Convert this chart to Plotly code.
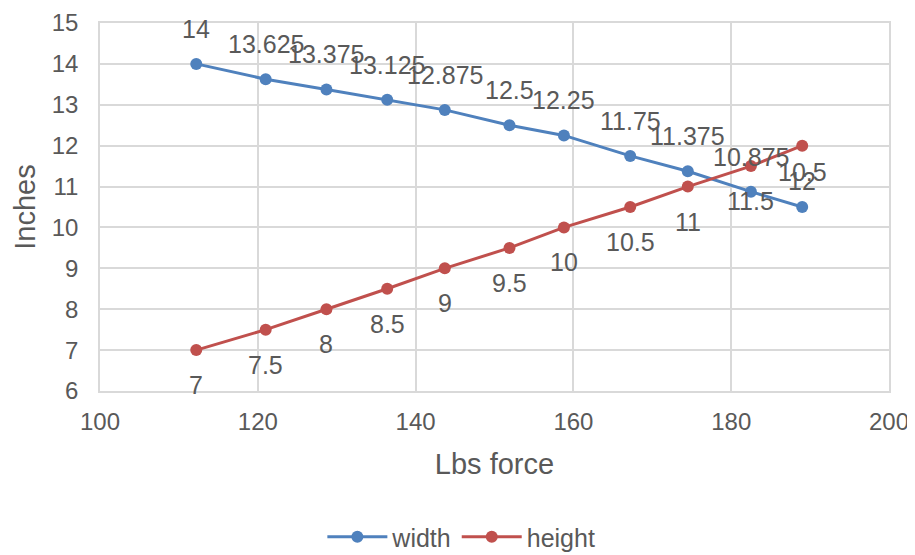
import plotly.graph_objects as go

force = [112.2, 121.0, 128.7, 136.4, 143.7, 151.9, 158.8, 167.2, 174.5, 182.5, 189.0]
width = [14, 13.625, 13.375, 13.125, 12.875, 12.5, 12.25, 11.75, 11.375, 10.875, 10.5]
height = [7, 7.5, 8, 8.5, 9, 9.5, 10, 10.5, 11, 11.5, 12]

BLUE = "#4F81BD"
RED = "#C0504D"
TXT = "#595959"
GRID = "#D9D9D9"
FONT = "Liberation Sans, Arial, sans-serif"

fig = go.Figure()
fig.add_trace(go.Scatter(x=force, y=width, mode="lines+markers", name="width",
                         line=dict(color=BLUE, width=3), marker=dict(size=12, color=BLUE)))
fig.add_trace(go.Scatter(x=force, y=height, mode="lines+markers", name="height",
                         line=dict(color=RED, width=3), marker=dict(size=12, color=RED)))

annotations = []
for xv, yv in zip(force, width):
    annotations.append(dict(x=xv, y=yv, text=f"{yv:g}", showarrow=False, yshift=35,
                            font=dict(size=25, color=TXT, family=FONT)))
for xv, yv in zip(force, height):
    annotations.append(dict(x=xv, y=yv, text=f"{yv:g}", showarrow=False, yshift=-35,
                            font=dict(size=25, color=TXT, family=FONT)))

fig.update_layout(
    width=907, height=547,
    margin=dict(l=92, r=26, t=15, b=164, autoexpand=False),
    paper_bgcolor="white", plot_bgcolor="white",
    font=dict(family=FONT, color=TXT, size=24),
    showlegend=True,
    legend=dict(orientation="h", x=0.458, xanchor="center", y=-0.397, yanchor="middle",
                font=dict(size=25, color=TXT), itemwidth=60, tracegroupgap=0),
    annotations=annotations,
    xaxis=dict(range=[100, 200], dtick=20, showgrid=True, gridcolor=GRID, gridwidth=1.5,
               zeroline=False, showline=True, linecolor=GRID, linewidth=1.5, mirror=True,
               automargin=False,
               tickfont=dict(size=24, color=TXT), ticklabelstandoff=8,
               title=dict(text="Lbs force", font=dict(size=29, color=TXT), standoff=20)),
    yaxis=dict(range=[6, 15], dtick=1, showgrid=True, gridcolor=GRID, gridwidth=1.5,
               zeroline=False, showline=True, linecolor=GRID, linewidth=1.5, mirror=True,
               automargin=False,
               tickfont=dict(size=24, color=TXT), ticklabelstandoff=15,
               title=dict(text="Inches", font=dict(size=29, color=TXT), standoff=8)),
)

fig.write_html("out.html")
